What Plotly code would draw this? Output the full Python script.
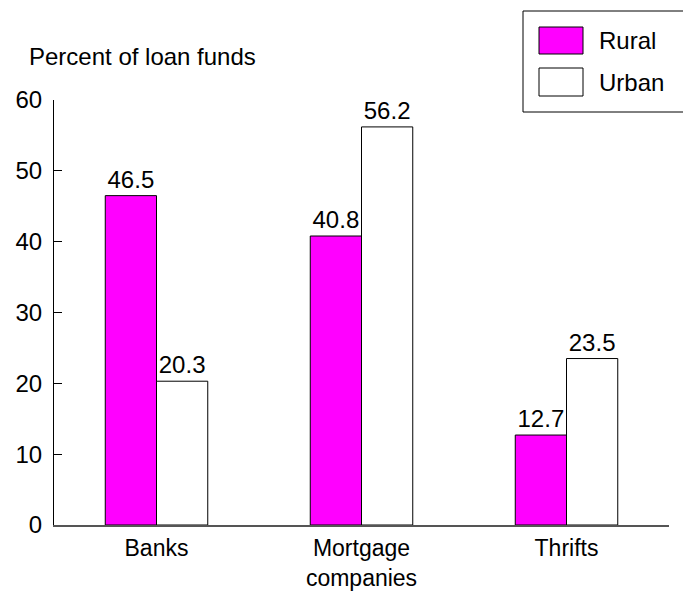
import plotly.graph_objects as go

categories = ["Banks", "Mortgage<br>companies", "Thrifts"]
rural = [46.5, 40.8, 12.7]
urban = [20.3, 56.2, 23.5]
series_names = ["Rural", "Urban"]
y_ticks = [0, 10, 20, 30, 40, 50, 60]

FONT = dict(family="Liberation Sans, Arial, sans-serif", size=24, color="black")
MAGENTA = "#ff00ff"

fig = go.Figure()
fig.add_trace(go.Bar(
    x=categories, y=rural, name=series_names[0],
    marker=dict(color=MAGENTA, line=dict(color="black", width=1)),
    text=[f"{v:.1f}" for v in rural], textposition="outside",
    textfont=FONT, cliponaxis=False, showlegend=False,
))
fig.add_trace(go.Bar(
    x=categories, y=urban, name=series_names[1],
    marker=dict(color="white", line=dict(color="black", width=1)),
    text=[f"{v:.1f}" for v in urban], textposition="outside",
    textfont=FONT, cliponaxis=False, showlegend=False,
))

fig.update_layout(
    width=683, height=594,
    margin=dict(l=54, r=14, t=100, b=69),
    paper_bgcolor="white", plot_bgcolor="white",
    barmode="group", bargap=0.5, bargroupgap=0,
    font=FONT,
    uniformtext=dict(mode=False),
    xaxis=dict(
        range=[-0.5, 2.5], showgrid=False, zeroline=False,
        showline=True, linecolor="#555555", linewidth=2,
        ticks="", tickfont=dict(FONT, size=23), ticklabelstandoff=1,
        automargin=False,
    ),
    yaxis=dict(
        range=[0, 60], tickvals=y_ticks, showgrid=False, zeroline=False,
        showline=True, linecolor="black", linewidth=1,
        ticks="inside", ticklen=8, tickcolor="black", tickwidth=1,
        tickfont=FONT, ticklabelstandoff=6, automargin=False,
    ),
)

# axis title placed horizontally above the value axis
fig.add_annotation(
    text="Percent of loan funds", xref="paper", yref="paper",
    x=-0.044, y=1.0, xanchor="left", yanchor="bottom", yshift=28,
    showarrow=False, font=FONT,
)

# boxed legend with large swatches
fig.add_shape(type="rect", xref="paper", yref="paper",
              x0=(523 - 54) / 615, x1=(690 - 54) / 615,
              y0=(525 - 112) / 425, y1=(525 - 11) / 425,
              line=dict(color="black", width=1), fillcolor="white")
swatches = [(MAGENTA, 27, 54), ("white", 68, 96)]
for name, (fill, top, bottom) in zip(series_names, swatches):
    fig.add_shape(type="rect", xref="paper", yref="paper",
                  x0=(539 - 54) / 615, x1=(583 - 54) / 615,
                  y0=(525 - bottom) / 425, y1=(525 - top) / 425,
                  line=dict(color="black", width=1), fillcolor=fill)
    fig.add_annotation(text=name, xref="paper", yref="paper",
                       x=(597 - 54) / 615, y=(525 - (top + bottom) / 2) / 425,
                       xanchor="left", yanchor="middle", showarrow=False,
                       font=FONT)

fig.write_html("out.html")
